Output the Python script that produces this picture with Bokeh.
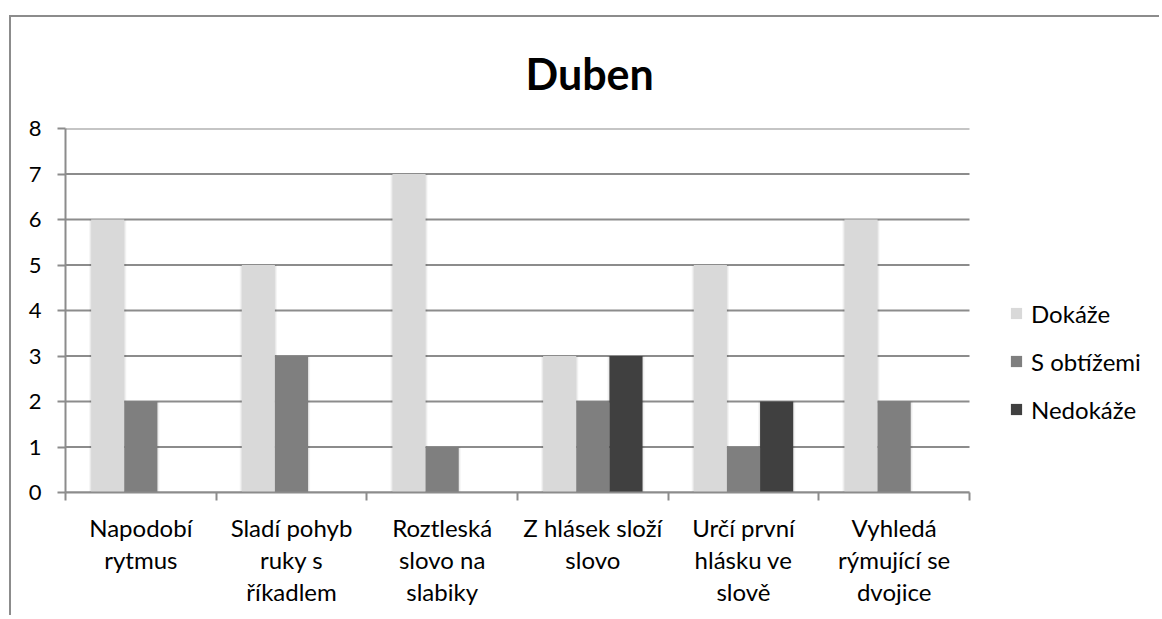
from bokeh.plotting import figure
from bokeh.models import (Range1d, FixedTicker, Legend, LegendItem,
                          ColumnDataSource)
from bokeh.transform import dodge
from bokeh.embed import file_html
from bokeh.resources import INLINE

# ---- data ----
title_text = "Duben"
categories = ["Napodobí\nrytmus", "Sladí pohyb\nruky s\nříkadlem",
              "Roztleská\nslovo na\nslabiky", "Z hlásek složí\nslovo",
              "Určí první\nhlásku ve\nslově", "Vyhledá\nrýmující se\ndvojice"]
series_names = ["Dokáže", "S obtížemi", "Nedokáže"]
dokaze = [6, 5, 7, 3, 5, 6]
s_obtizemi = [2, 3, 1, 2, 1, 2]
nedokaze = [0, 0, 0, 3, 2, 0]
y_ticks = [0, 1, 2, 3, 4, 5, 6, 7, 8]
colors = ["#d9d9d9", "#7f7f7f", "#404040"]

FONT = "Lato"
GRID = "#8c8c8c"

n_cat = len(categories)
centers = [i + 0.5 for i in range(n_cat)]
source = ColumnDataSource(dict(x=centers, d=dokaze, s=s_obtizemi, n=nedokaze))
grid_src = ColumnDataSource(dict(y=y_ticks, x0=[0] * len(y_ticks),
                                 x1=[n_cat] * len(y_ticks)))

W, H = 1150, 600
ML, MT, MB, MR = 54, 111, 125, 0
frame_w = W - ML - MR
plot_w = 904  # pixel width of the category area
x_end = n_cat * frame_w / plot_w  # extra room on the right for the legend

p = figure(width=W, height=H, output_backend="svg", toolbar_location=None,
           x_range=Range1d(0, x_end), y_range=Range1d(0, 8),
           min_border_left=ML, min_border_right=MR, min_border_top=MT,
           min_border_bottom=MB)
p.outline_line_color = None
p.border_fill_alpha = 0
p.styles = {"border-top": f"2px solid {GRID}", "border-left": f"2px solid {GRID}",
            "margin-top": "15px", "margin-left": "9px"}

# horizontal gridlines limited to the category area
p.xgrid.visible = False
p.ygrid.visible = False
p.segment(x0="x0", x1="x1", y0="y", y1="y", source=grid_src,
          line_color=GRID, line_width=2)

bw = 0.22
offsets = [-bw, 0, bw]
# faint soft shadows behind the bars
for col, off in zip(["d", "s", "n"], offsets):
    p.vbar(x=dodge("x", off), top=col, width=bw + 0.028, bottom=0, source=source,
           fill_color="black", fill_alpha=0.04, line_color=None)
    p.vbar(x=dodge("x", off), top=col, width=bw + 0.014, bottom=0, source=source,
           fill_color="black", fill_alpha=0.05, line_color=None)

renderers = []
for col, off, color in zip(["d", "s", "n"], offsets, colors):
    r = p.vbar(x=dodge("x", off), top=col, width=bw, bottom=0, source=source,
               fill_color=color, line_color=None)
    renderers.append(r)

xa = p.xaxis[0]
xa.bounds = (0, n_cat)
xa.ticker = FixedTicker(ticks=centers, minor_ticks=list(range(n_cat + 1)))
xa.major_label_overrides = {c: lab for c, lab in zip(centers, categories)}
xa.major_tick_out = 0
xa.major_tick_in = 0
xa.minor_tick_out = 8
xa.minor_tick_in = 0
xa.minor_tick_line_color = GRID
xa.minor_tick_line_width = 2
xa.axis_line_color = GRID
xa.axis_line_width = 2
xa.major_label_standoff = 12
xa.major_label_text_font = FONT
xa.major_label_text_font_size = "24px"
xa.major_label_text_line_height = 1.12
xa.major_label_text_color = "black"

ya = p.yaxis[0]
ya.ticker = FixedTicker(ticks=y_ticks)
ya.major_tick_out = 8
ya.major_tick_in = 0
ya.minor_tick_line_color = None
ya.major_tick_line_color = GRID
ya.major_tick_line_width = 2
ya.axis_line_color = GRID
ya.axis_line_width = 2
ya.major_label_standoff = 16
ya.major_label_text_font = FONT
ya.major_label_text_font_size = "22px"
ya.major_label_text_color = "black"

# title
p.title.text = title_text
p.title.align = "left"
p.title.vertical_align = "top"
p.title.offset = 460
p.title.standoff = 55
p.title.text_font = FONT
p.title.text_font_style = "bold"
p.title.text_font_size = "43px"
p.title.text_line_height = 0.75
p.title.text_color = "black"

legend = Legend(items=[LegendItem(label=n, renderers=[r])
                       for n, r in zip(series_names, renderers)],
                location=(944, 68), glyph_width=14, glyph_height=14,
                label_height=30, spacing=18, padding=0, margin=0,
                label_standoff=8, border_line_color=None,
                background_fill_alpha=0, label_text_font=FONT,
                label_text_font_size="24px", label_text_color="black")
p.add_layout(legend)

open("out.html", "w").write(file_html(p, INLINE))
